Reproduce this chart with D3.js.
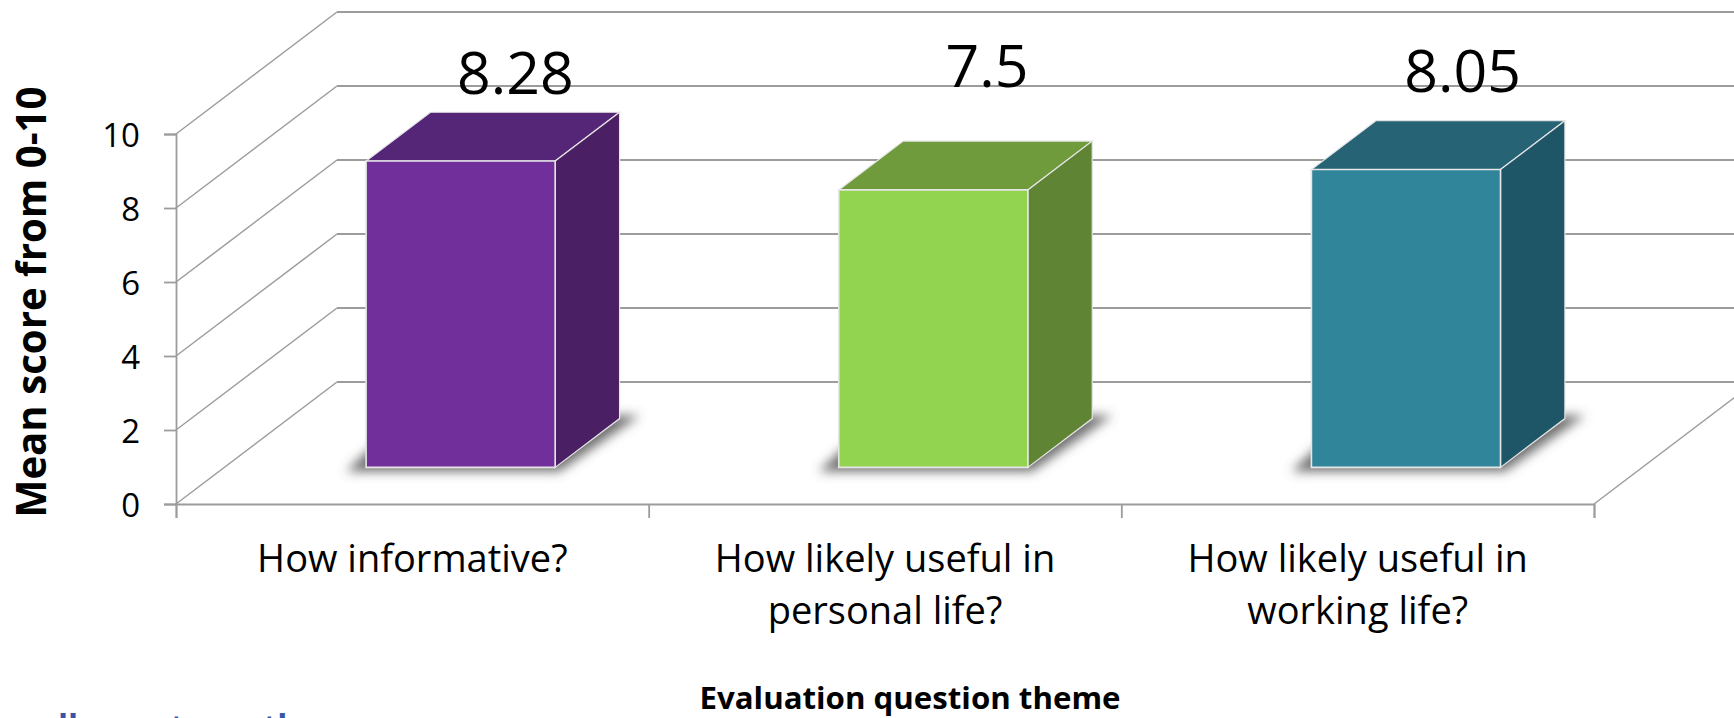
<!DOCTYPE html>
<html>
<head>
<meta charset="utf-8">
<script src="https://cdn.jsdelivr.net/npm/d3@7/dist/d3.min.js"></script>
<style>
  html, body { margin: 0; padding: 0; background: #fff; overflow: hidden; }
  text { font-family: "Open Sans", sans-serif; fill: #000; }
</style>
</head>
<body>
<div id="chart"></div>
<script>
// Chart values
const categories = ["How informative?", "How likely useful in personal life?", "How likely useful in working life?"];
const categoryLines = [["How informative?"], ["How likely useful in", "personal life?"], ["How likely useful in", "working life?"]];
const scores = [8.28, 7.5, 8.05];
const scoreLabels = ["8.28", "7.5", "8.05"];
const yTicks = [0, 2, 4, 6, 8, 10];
// Tops of a blue line of text that the original crop cuts off at the bottom edge
const croppedText = ["ll", "t", "th"];

// Bar colours, one row per bar
const frontColors = ["#702f9b", "#92d350", "#31859b"];
const topColors = ["#552678", "#6f9b3d", "#266475"];
const sideColors = ["#4a1f64", "#5f8433", "#1f5667"];

const width = 1734, height = 718;
const plot = { left: 176, right: 1594, bottom: 504, top: 134 };
const wall = { dx: 161, dy: 122 };   // how far the back wall sits from the front plane
const barDepth = { front: 0.3, back: 0.7 };
const gridColor = "#9c9c9c";

const svg = d3.select("#chart").append("svg")
    .attr("width", width)
    .attr("height", height)
    .style("display", "block");

// Blur for the floor shadows
svg.append("defs").append("filter")
    .attr("id", "shadowBlur")
    .attr("x", "-20%").attr("y", "-30%").attr("width", "140%").attr("height", "160%")
    .append("feGaussianBlur")
    .attr("stdDeviation", 5.5);

const y = d3.scaleLinear().domain([0, 10]).range([plot.bottom, plot.top]);

const x = d3.scaleBand()
    .domain(categories)
    .range([plot.left, plot.right])
    .paddingInner(0.6)
    .paddingOuter(0.3);

// Category boundaries, for the tick marks on the bottom axis
const xEdges = d3.scaleLinear().domain([0, categories.length]).range([plot.left, plot.right]);

// Move a point on the front plane back by a fraction of the chart depth
const project = (px, py, z) => [px + z * wall.dx, py - z * wall.dy];

// Back wall gridlines and the diagonals on the side wall
svg.append("g").selectAll("line")
    .data(yTicks)
    .enter()
    .append("line")
    .attr("x1", wall.dx + plot.left)
    .attr("x2", wall.dx + plot.right)
    .attr("y1", d => y(d) - wall.dy)
    .attr("y2", d => y(d) - wall.dy)
    .attr("stroke", gridColor)
    .attr("stroke-width", 1.8);

svg.append("g").selectAll("line")
    .data(yTicks)
    .enter()
    .append("line")
    .attr("x1", plot.left)
    .attr("x2", plot.left + wall.dx)
    .attr("y1", d => y(d))
    .attr("y2", d => y(d) - wall.dy)
    .attr("stroke", gridColor)
    .attr("stroke-width", 1.5);

// Floor edge on the right
svg.append("line")
    .attr("x1", plot.right)
    .attr("x2", plot.right + wall.dx)
    .attr("y1", y(0))
    .attr("y2", y(0) - wall.dy)
    .attr("stroke", gridColor)
    .attr("stroke-width", 1.5);

// Axes
const yAxis = svg.append("g")
    .attr("transform", `translate(${plot.left},0)`)
    .call(d3.axisLeft(y).tickValues(yTicks).tickSize(12).tickPadding(24));
yAxis.selectAll("text")
    .style("font-size", "33px")
    .attr("dy", "0.38em");

const xAxis = svg.append("g")
    .attr("transform", `translate(0,${plot.bottom})`)
    .call(d3.axisBottom(xEdges).ticks(categories.length).tickSize(14).tickFormat(""));

svg.selectAll(".domain, .tick line")
    .attr("stroke", gridColor)
    .attr("stroke-width", 1.8);

// Bars: shadow first, then the three visible faces
const bars = svg.append("g").selectAll("g")
    .data(categories)
    .enter()
    .append("g");

const faceEdge = "#e6e6e6";

bars.append("polygon")
    .attr("fill", "#555555")
    .attr("fill-opacity", 0.85)
    .attr("filter", "url(#shadowBlur)")
    .attr("points", d => {
        const x0 = x(d) + barDepth.front * wall.dx;
        const x1 = x0 + x.bandwidth();
        const y0 = y(0) - barDepth.front * wall.dy;
        const yb = y(0) - barDepth.back * wall.dy;
        const shift = (barDepth.back - barDepth.front) * wall.dx;
        return [[x0 - 20, y0 + 4], [x1 + 4, y0 + 4], [x1 + shift + 20, yb - 3], [x0 + 40, yb - 3]].join(" ");
    });

const corners = (d, i) => {
    const left = x(d), right = left + x.bandwidth();
    const low = y(0), high = y(scores[i]);
    return {
        fl: project(left, low, barDepth.front), fr: project(right, low, barDepth.front),
        tl: project(left, high, barDepth.front), tr: project(right, high, barDepth.front),
        bl: project(left, high, barDepth.back), br: project(right, high, barDepth.back),
        sr: project(right, low, barDepth.back)
    };
};

bars.append("polygon")
    .attr("fill", (d, i) => topColors[i])
    .attr("stroke", faceEdge)
    .attr("stroke-width", 1.2)
    .attr("points", (d, i) => { const c = corners(d, i); return [c.tl, c.tr, c.br, c.bl].join(" "); });

bars.append("polygon")
    .attr("fill", (d, i) => sideColors[i])
    .attr("stroke", faceEdge)
    .attr("stroke-width", 1.2)
    .attr("points", (d, i) => { const c = corners(d, i); return [c.tr, c.br, c.sr, c.fr].join(" "); });

bars.append("polygon")
    .attr("fill", (d, i) => frontColors[i])
    .attr("stroke", faceEdge)
    .attr("stroke-width", 1.6)
    .attr("points", (d, i) => { const c = corners(d, i); return [c.tl, c.tr, c.fr, c.fl].join(" "); });

// Value labels were placed by hand in the original, they do not follow the bar tops
const labelBaselines = [94, 87, 92];
const labelNudge = [0, -1, 2];
svg.append("g").selectAll("text")
    .data(scoreLabels)
    .enter()
    .append("text")
    .attr("x", (d, i) => x(categories[i]) + x.bandwidth() / 2 + 103 + labelNudge[i])
    .attr("y", (d, i) => labelBaselines[i])
    .attr("text-anchor", "middle")
    .style("font-size", "59px")
    .text(d => d);

// Category labels
const catLabels = svg.append("g").selectAll("text")
    .data(categories)
    .enter()
    .append("text")
    .attr("text-anchor", "middle")
    .attr("y", 572)
    .style("font-size", "38px");

catLabels.selectAll("tspan")
    .data((d, i) => categoryLines[i].map(line => ({ line, cat: d })))
    .enter()
    .append("tspan")
    .attr("x", d => x(d.cat) + x.bandwidth() / 2)
    .attr("dy", (d, i) => i ? 52 : 0)
    .text(d => d.line);

// Axis titles
svg.append("text")
    .attr("transform", "translate(46,302) rotate(-90)")
    .attr("text-anchor", "middle")
    .attr("textLength", 431)
    .attr("lengthAdjust", "spacingAndGlyphs")
    .style("font-size", "41px")
    .style("font-weight", "700")
    .text("Mean score from 0-10");

svg.append("text")
    .attr("x", 910)
    .attr("y", 709)
    .attr("text-anchor", "middle")
    .attr("textLength", 421)
    .attr("lengthAdjust", "spacingAndGlyphs")
    .style("font-size", "30px")
    .style("font-weight", "700")
    .text("Evaluation question theme");

// Cropped blue text at the bottom left
const croppedX = [58, 170, 263];
svg.append("g").selectAll("text")
    .data(croppedText)
    .enter()
    .append("text")
    .attr("x", (d, i) => croppedX[i])
    .attr("y", 738)
    .style("font-size", "33px")
    .style("font-weight", "700")
    .style("fill", "#3a55a8")
    .text(d => d);
</script>
</body>
</html>
